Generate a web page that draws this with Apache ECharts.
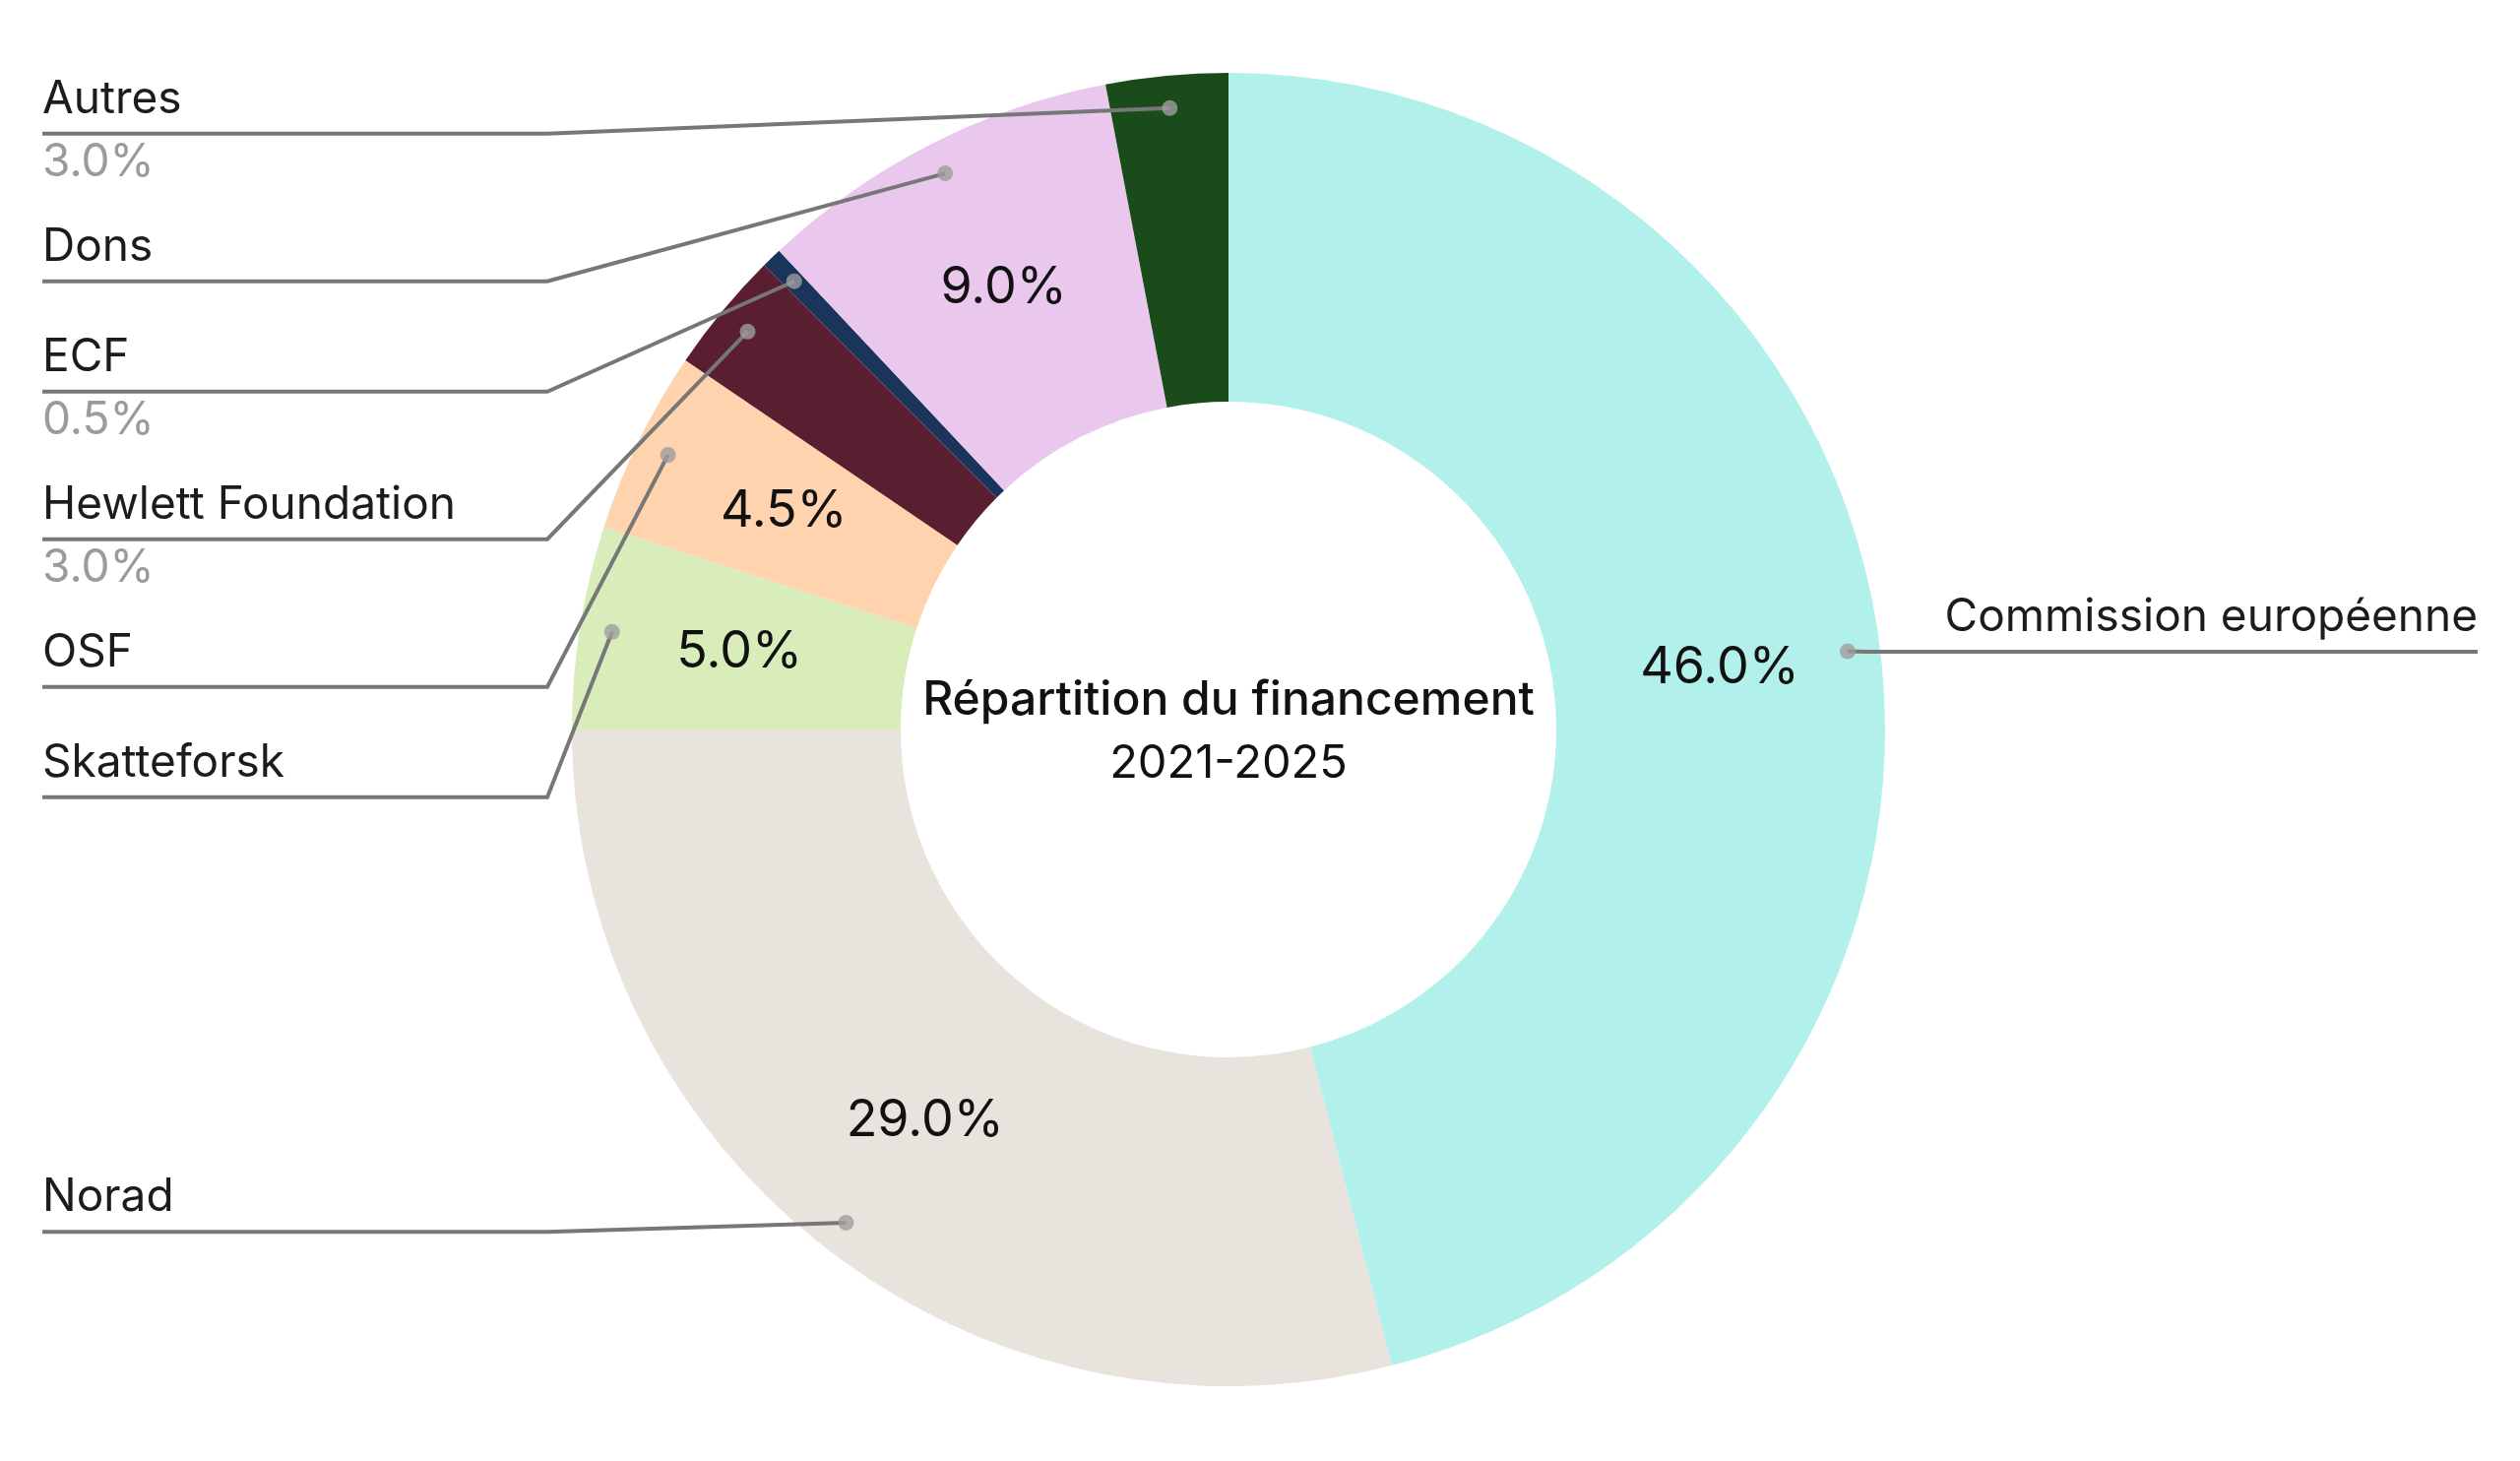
<!DOCTYPE html>
<html><head><meta charset="utf-8">
<script src="https://cdn.jsdelivr.net/npm/echarts@6/dist/echarts.min.js"></script>
<style>html,body{margin:0;padding:0;background:#fff}#c{width:2560px;height:1484px}</style>
</head><body><div id="c"></div>
<script>
const categories = ['Commission européenne', 'Norad', 'Skatteforsk', 'OSF', 'Hewlett Foundation', 'ECF', 'Dons', 'Autres'];
const shares = [46.0, 29.0, 5.0, 4.5, 3.0, 0.5, 9.0, 3.0];
const colors = ['#b2f0eb', '#e8e4dd', '#d9edbb', '#fed3ae', '#591f30', '#1a345c', '#eac8ed', '#1a4b1a'];
const titleLines = ['Répartition du financement', '2021-2025'];

const CX = 1248, CY = 741, R_IN = 333, R_OUT = 667, R_DOT = 634, R_LAB = 614;
const EDGE = 43, BEND_X = 556, PAD = 10, NAME_LH = 70;
const FONT = 'Inter, "Noto Sans", sans-serif';
const SMALL = 4;
const fmt = v => v.toFixed(1) + '%';
const mids = []; let acc = 0;
shares.forEach(v => { mids.push(acc + v / 2); acc += v; });

const pieData = categories.map((n, i) => ({ name: n, value: shares[i], itemStyle: { color: colors[i] } }));
const labelData = categories.map((n, i) => ({ name: n, value: shares[i] }));

const chart = echarts.init(document.getElementById('c'));
chart.setOption({
  backgroundColor: '#ffffff',
  animation: false,
  polar: { center: [CX, CY], radius: R_DOT },
  angleAxis: { type: 'value', min: 0, max: 100, startAngle: 90, clockwise: true, show: false },
  radiusAxis: { type: 'value', min: 0, max: 1, show: false },
  graphic: [
    { type: 'text', z: 10, style: { text: titleLines[0], x: CX, y: 712, align: 'center', verticalAlign: 'middle', fill: '#111', font: '500 48px Inter, "Noto Sans", sans-serif' } },
    { type: 'text', z: 10, style: { text: titleLines[1], x: CX, y: 776, align: 'center', verticalAlign: 'middle', fill: '#111', font: '400 47px Inter, "Noto Sans", sans-serif' } }
  ],
  series: [
    {
      type: 'pie', z: 2, silent: true,
      center: [CX, CY], radius: [R_IN, R_OUT], startAngle: 90, clockwise: true,
      emphasis: { disabled: true },
      label: {
        position: 'inside', fontFamily: FONT, fontSize: 52, color: '#111',
        formatter: p => p.value >= SMALL ? fmt(p.value) : ''
      },
      labelLine: { show: false },
      data: pieData
    },
    {
      type: 'pie', z: 3, silent: true,
      left: 0, top: 0, width: 2560, height: 1484,
      center: [CX, CY], radius: [0, R_LAB], startAngle: 90, clockwise: true,
      emphasis: { disabled: true },
      itemStyle: { color: 'rgba(0,0,0,0)' },
      avoidLabelOverlap: true,
      label: {
        show: true, position: 'outside', alignTo: 'edge', edgeDistance: EDGE,
        padding: [PAD, 0, PAD, 0], backgroundColor: 'rgba(255,255,255,0)',
        fontFamily: FONT,
        formatter: p => {
          if (p.value < SMALL) return '{n|' + p.name + '}\n{v|' + fmt(p.value) + '}';
          return mids[p.dataIndex] < 50 ? '{n|' + p.name + '}\n{r| }' : '{n|' + p.name + '}\n{b| }';
        },
        rich: {
          n: { fontFamily: FONT, fontSize: 46, lineHeight: NAME_LH, color: '#1c1c1c' },
          v: { fontFamily: FONT, fontSize: 46, lineHeight: 58, color: '#9b9b9b' },
          b: { fontSize: 10, lineHeight: 20 },
          r: { fontSize: 10, lineHeight: 74 }
        }
      },
      labelLine: { show: true, length: 0, length2: 10, minTurnAngle: 0, maxSurfaceAngle: 180, lineStyle: { color: '#777777', width: 4 } },
      labelLayout: function (p) {
        const pts = p.labelLinePoints;
        if (!pts || !pts.length) return {};
        const k = R_DOT / R_LAB;
        const p0 = [CX + (pts[0][0] - CX) * k, CY + (pts[0][1] - CY) * k];
        const y = p.labelRect.y + PAD + NAME_LH;
        const left = p0[0] < CX;
        const x2 = left ? BEND_X : p0[0] + 20;
        const x3 = left ? EDGE : 2560 - EDGE;
        return { labelLinePoints: [p0, [x2, y], [x3, y]] };
      },
      data: labelData
    },
    {
      type: 'scatter', coordinateSystem: 'polar', z: 5, silent: true,
      symbol: 'circle', symbolSize: 16,
      itemStyle: { color: '#9e9e9e' },
      data: mids.map(m => [1, m])
    }
  ]
});
</script></body></html>
